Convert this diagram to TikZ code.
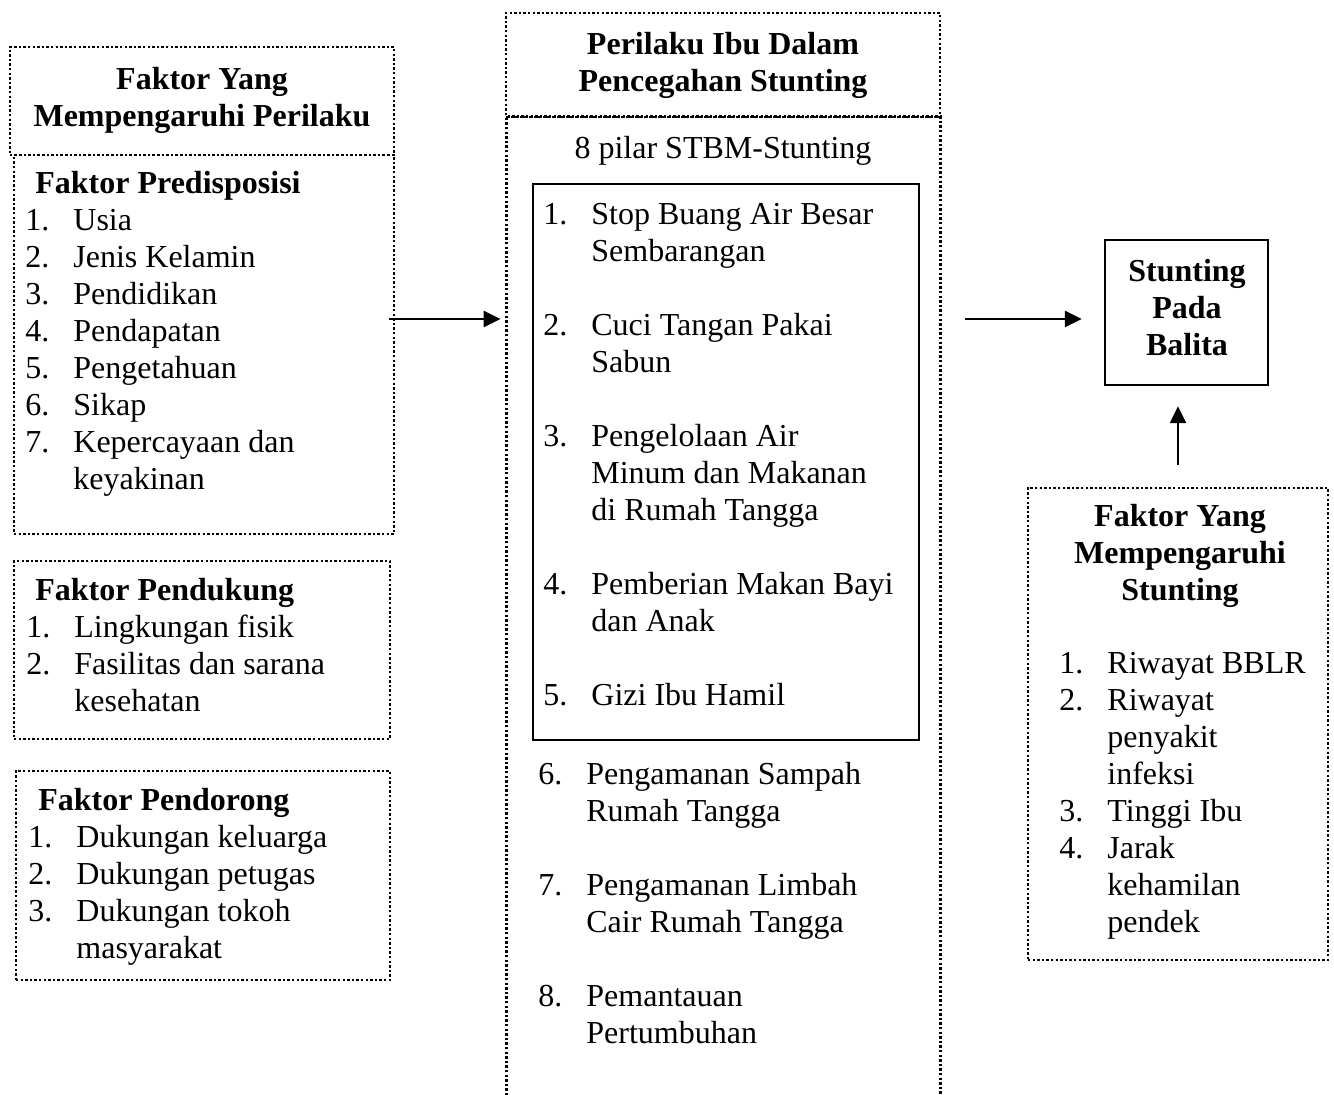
\documentclass[tikz,border=0pt]{standalone}
\usepackage{fontspec}
\setmainfont{Liberation Serif}
\usetikzlibrary{arrows.meta, fit}

\newcommand{\basefont}{\fontsize{16}{18.5}\selectfont}
\newcommand{\numlist}[1]{\begin{tabular}[t]{@{}p{24pt}@{}l@{}}#1\end{tabular}}
\newcommand{\ctitle}[1]{\begin{tabular}[t]{@{}c@{}}#1\end{tabular}}

\tikzset{
  dotbox/.style={draw, line width=1.3pt, dash pattern=on 1.2pt off 1.1pt, inner sep=0pt},
  dotline/.style={line width=1.3pt, dash pattern=on 1.2pt off 1.1pt},
  solidbox/.style={draw, line width=1.2pt, inner sep=0pt},
  txt/.style={inner sep=0pt, anchor=base west},
  htxt/.style={txt, font=\basefont\bfseries},
  ctxt/.style={inner sep=0pt, anchor=base, font=\basefont\bfseries},
  arrow/.style={-{Triangle[length=8.5pt,width=8pt]}, line width=1.2pt}
}

\begin{document}
\begin{tikzpicture}[x=0.5pt, y=-0.5pt, every node/.style={font=\basefont}]
\useasboundingbox (0,0) rectangle (1334,1095);

% left column
\node[dotbox, fit={(10,47) (394,155)}] (hdrP) {};
\node[ctxt] (hdrPT) at (202,90) {\ctitle{Faktor Yang\\Mempengaruhi Perilaku}};
\node[dotbox, fit={(14,155) (394,534)}] (pred) {};
\node[htxt] (predT) at (35,194) {Faktor Predisposisi};
\node[txt] (predL) at (25,231) {\numlist{1. & Usia\\ 2. & Jenis Kelamin\\ 3. & Pendidikan\\ 4. & Pendapatan\\ 5. & Pengetahuan\\ 6. & Sikap\\ 7. & Kepercayaan dan\\ & keyakinan}};
\node[dotbox, fit={(14,561) (390,739)}] (pend) {};
\node[htxt] (pendT) at (35,601) {Faktor Pendukung};
\node[txt] (pendL) at (26,638) {\numlist{1. & Lingkungan fisik\\ 2. & Fasilitas dan sarana\\ & kesehatan}};
\node[dotbox, fit={(16,771) (390,980)}] (dor) {};
\node[htxt] (dorT) at (38,811) {Faktor Pendorong};
\node[txt] (dorL) at (28,848) {\numlist{1. & Dukungan keluarga\\ 2. & Dukungan petugas\\ 3. & Dukungan tokoh\\ & masyarakat}};

% middle column
\node[dotbox, fit={(506,13) (940,117)}] (hdrB) {};
\node[ctxt] (hdrBT) at (723,55) {\ctitle{Perilaku Ibu Dalam\\Pencegahan Stunting}};
\node[inner sep=0pt, fit={(507,117) (940,1095)}] (body) {};
\draw[dotline] (body.south west) -- (body.north west) -- (body.north east) -- (body.south east);
\node[ctxt, font=\basefont] (pilar) at (723,159) {8 pilar STBM-Stunting};
\node[solidbox, fit={(533,184) (919,740)}] (inner) {};
\node[txt] (innerL) at (543,225) {\numlist{1. & Stop Buang Air Besar\\ & Sembarangan\\ & \\ 2. & Cuci Tangan Pakai\\ & Sabun\\ & \\ 3. & Pengelolaan Air\\ & Minum dan Makanan\\ & di Rumah Tangga\\ & \\ 4. & Pemberian Makan Bayi\\ & dan Anak\\ & \\ 5. & Gizi Ibu Hamil}};
\node[txt] (outerL) at (538,785) {\numlist{6. & Pengamanan Sampah\\ & Rumah Tangga\\ & \\ 7. & Pengamanan Limbah\\ & Cair Rumah Tangga\\ & \\ 8. & Pemantauan\\ & Pertumbuhan}};

% right column
\node[solidbox, fit={(1105,240) (1268,385)}] (stunt) {};
\node[ctxt] (stuntT) at (1187,282) {\ctitle{Stunting\\Pada\\Balita}};
\node[dotbox, fit={(1028,488) (1328,960)}] (fakS) {};
\node[ctxt] (fakST) at (1180,527) {\ctitle{Faktor Yang\\Mempengaruhi\\Stunting}};
\node[txt] (fakSL) at (1059,674) {\numlist{1. & Riwayat BBLR\\ 2. & Riwayat\\ & penyakit\\ & infeksi\\ 3. & Tinggi Ibu\\ 4. & Jarak\\ & kehamilan\\ & pendek}};

% arrows
\coordinate (lvl) at (0,319);
\draw[arrow, shorten <=-3pt, shorten >=3pt] (pred.east |- lvl) -- (body.west |- lvl);
\draw[arrow, shorten <=12.5pt, shorten >=11pt] (body.east |- lvl) -- (stunt.west |- lvl);
\draw[arrow, shorten <=11pt, shorten >=10pt] (fakS.north) -- (fakS.north |- stunt.south);
\end{tikzpicture}
\end{document}
